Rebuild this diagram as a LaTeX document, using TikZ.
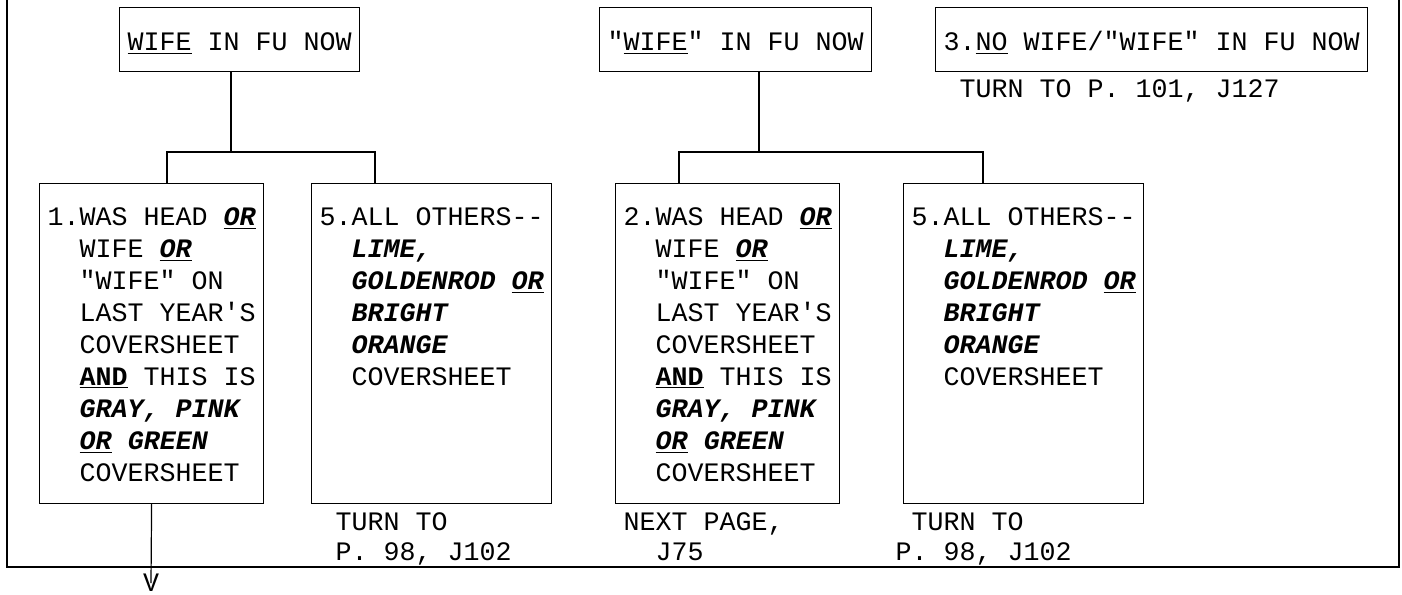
\documentclass[tikz,border=0pt]{standalone}
\usepackage{fontspec}
\setmonofont{Liberation Mono}
\usepackage{tikz}

\newcommand\qfont{\ttfamily\fontsize{13.33pt}{16pt}\selectfont}
\newcommand\notefont{\ttfamily\fontsize{13.33pt}{15pt}\selectfont}
\newcommand\undl[1]{\underline{#1}}
\newcommand\bitx[1]{\textbf{\textit{#1}}}

\begin{document}
\begin{tikzpicture}[
  x=0.5pt, y=-0.5pt,
  line width=0.6pt,
  qbox/.style={draw, rectangle, inner sep=0pt, anchor=north west},
  topbox/.style={qbox, font=\qfont, inner xsep=4pt, minimum height=32pt, text height=12pt, text depth=1.5pt},
  optbox/.style={qbox, minimum height=160pt},
  qtext/.style={anchor=base west, inner sep=0pt, align=left, font=\qfont},
  note/.style={anchor=base west, inner sep=0pt, align=left, font=\notefont}
]
  \useasboundingbox (0,0) rectangle (1402,594);

  % Frame
  \draw (7,0) |- (1399,567) -- (1399,0);

  % Top row
  \node[topbox, minimum width=120pt] (wife) at (119,7) {\undl{WIFE} IN FU NOW};
  \node[topbox, minimum width=136pt] (qwife) at (599,7) {"\undl{WIFE}" IN FU NOW};
  \node[topbox, minimum width=216pt] (nowife) at (935,7) {3.\undl{NO} WIFE/"WIFE" IN FU NOW};
  \node[note] (goto3) at (959,97.5) {TURN TO P. 101, J127};

  % Answer boxes
  \node[optbox, minimum width=112pt] (hw1) at (39,183) {};
  \node[optbox, minimum width=120pt] (oth1) at (311,183) {};
  \node[optbox, minimum width=112pt] (hw2) at (615,183) {};
  \node[optbox, minimum width=120pt] (oth2) at (903,183) {};

  % (base = last line)
  \node[qtext] (hw1txt) at (47,481) {1.WAS HEAD \undl{\bitx{OR}}\\
    \hspace*{16pt}WIFE \undl{\bitx{OR}}\\
    \hspace*{16pt}"WIFE" ON\\
    \hspace*{16pt}LAST YEAR'S\\
    \hspace*{16pt}COVERSHEET\\
    \hspace*{16pt}\undl{\textbf{AND}} THIS IS\\
    \hspace*{16pt}\bitx{GRAY, PINK}\\
    \hspace*{16pt}\undl{\bitx{OR}} \bitx{GREEN}\\
    \hspace*{16pt}COVERSHEET};
  \node[qtext] (oth1txt) at (319,385) {5.ALL OTHERS--\\
    \hspace*{16pt}\bitx{LIME,}\\
    \hspace*{16pt}\bitx{GOLDENROD} \undl{\bitx{OR}}\\
    \hspace*{16pt}\bitx{BRIGHT}\\
    \hspace*{16pt}\bitx{ORANGE}\\
    \hspace*{16pt}COVERSHEET};
  \node[qtext] (hw2txt) at (623,481) {2.WAS HEAD \undl{\bitx{OR}}\\
    \hspace*{16pt}WIFE \undl{\bitx{OR}}\\
    \hspace*{16pt}"WIFE" ON\\
    \hspace*{16pt}LAST YEAR'S\\
    \hspace*{16pt}COVERSHEET\\
    \hspace*{16pt}\undl{\textbf{AND}} THIS IS\\
    \hspace*{16pt}\bitx{GRAY, PINK}\\
    \hspace*{16pt}\undl{\bitx{OR}} \bitx{GREEN}\\
    \hspace*{16pt}COVERSHEET};
  \node[qtext] (oth2txt) at (911,385) {5.ALL OTHERS--\\
    \hspace*{16pt}\bitx{LIME,}\\
    \hspace*{16pt}\bitx{GOLDENROD} \undl{\bitx{OR}}\\
    \hspace*{16pt}\bitx{BRIGHT}\\
    \hspace*{16pt}\bitx{ORANGE}\\
    \hspace*{16pt}COVERSHEET};

  % Skip notes
  \node[note] (goto1) at (335,560.5) {TURN TO\\P. 98, J102};
  \node[note] (next) at (623,560.5) {NEXT PAGE,\\\hspace*{16pt}J75};
  \node[note] (goto2) at (895,560.5) {\hspace*{8pt}TURN TO\\P. 98, J102};
  \node[font=\qfont, inner sep=0pt] (down) at (151,583) {V};

  % Branches
  \coordinate (jA) at (231,152);
  \coordinate (lA) at (167,152);
  \coordinate (rA) at (375,152);
  \coordinate (jB) at (759,152);
  \coordinate (lB) at (679,152);
  \coordinate (rB) at (983,152);

  \draw (jA |- wife.south) -- (jA);
  \draw (lA |- hw1.north) -- (lA) -- (rA) -- (rA |- oth1.north);
  \draw (jB |- qwife.south) -- (jB);
  \draw (lB |- hw2.north) -- (lB) -- (rB) -- (rB |- oth2.north);
  \draw (hw1.south) -- (down.center);
\end{tikzpicture}
\end{document}
